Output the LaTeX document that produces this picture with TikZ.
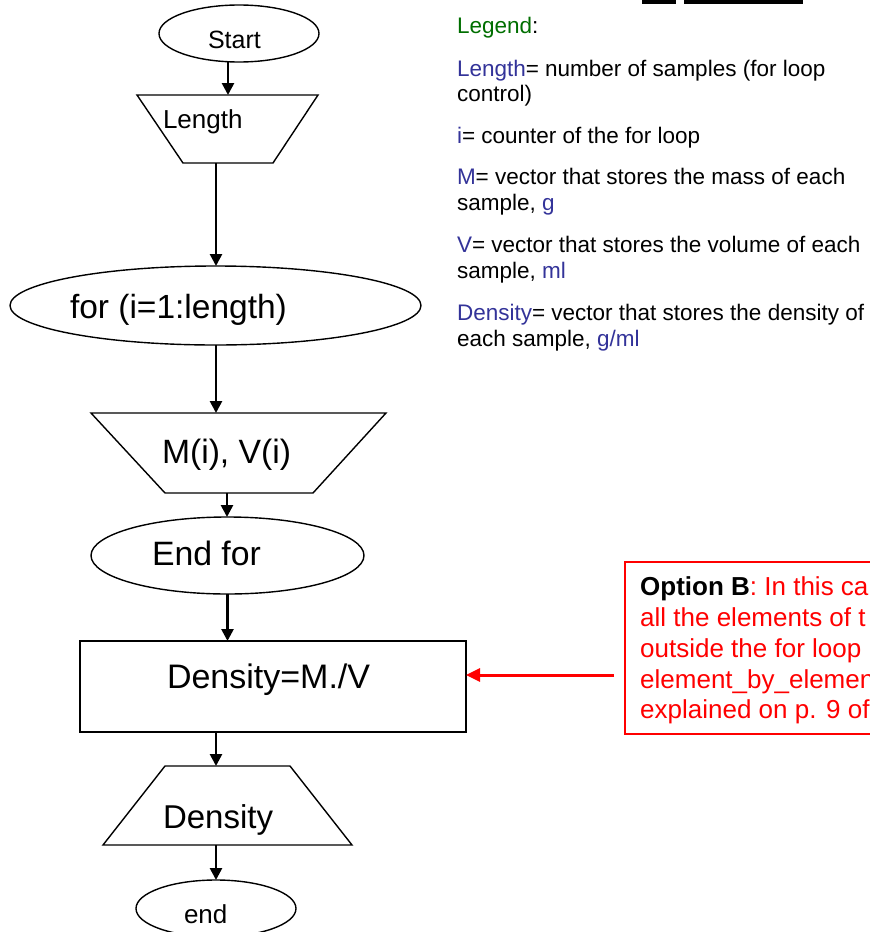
\documentclass[tikz,border=0pt]{standalone}
\usepackage{fontspec}
\setmainfont{Liberation Sans}
\usetikzlibrary{shapes.geometric,arrows.meta}
\definecolor{leggreen}{RGB}{0,110,0}
\definecolor{legblue}{RGB}{51,51,153}
\begin{document}
\begin{tikzpicture}[x=1pt,y=-1pt,
  every node/.style={inner sep=0pt,outer sep=0pt},
  shp/.style={draw=black,line width=1.4pt},
  flow/.style={-{Triangle[length=12pt,width=12pt]},line width=2.6pt},
  redflow/.style={red,-{Triangle[length=14pt,width=13pt]},line width=3pt},
  txt/.style={anchor=base west},
  leg/.style={anchor=base west,font=\fontsize{22.5}{26}\selectfont}]
  \clip (0,0) rectangle (870,932);
  \fill (642,0) rectangle (676,4);
  \fill (684,0) rectangle (803,4);
  % flow chart shapes
  \node [shp,ellipse,minimum width=160pt,minimum height=57pt] (start) at (239,33.5) {};
  \node [txt,font=\fontsize{25}{25}\selectfont] (starttxt) at (208,48) {Start};
  \draw [shp] (137,95) -- (318,95) -- (273,163) -- (183,163) -- cycle;
  \coordinate (lentop) at (228,95);
  \coordinate (lenbot) at (216,163);
  \node [txt,font=\fontsize{26}{26}\selectfont] (lentxt) at (163,128) {Length};
  \node [shp,ellipse,minimum width=411pt,minimum height=79pt] (for) at (215.5,305.5) {};
  \node [txt,font=\fontsize{33.5}{33.5}\selectfont] (fortxt) at (70,318) {for (i=1:length)};
  \draw [shp] (91,413) -- (386,413) -- (313,493) -- (165,493) -- cycle;
  \coordinate (mvtop) at (216,413);
  \coordinate (mvbot) at (227,493);
  \node [txt,font=\fontsize{33.7}{33.7}\selectfont] (mvtxt) at (162,463) {M(i), V(i)};
  \node [shp,ellipse,minimum width=273pt,minimum height=77pt] (endfor) at (227.5,555.5) {};
  \node [txt,font=\fontsize{33.8}{33.8}\selectfont] (endfortxt) at (152,565) {End for};
  \node [shp,rectangle,minimum width=386pt,minimum height=91pt] (calc) at (273,686.5) {};
  \node [txt,font=\fontsize{34}{34}\selectfont] (calctxt) at (167,688) {Density=M./V};
  \draw [shp] (165,766) -- (290,766) -- (352,845) -- (103,845) -- cycle;
  \coordinate (denstop) at (216,766);
  \coordinate (densbot) at (216,845);
  \node [txt,font=\fontsize{33}{33}\selectfont] (denstxt) at (163,828) {Density};
  \node [shp,ellipse,minimum width=160pt,minimum height=57pt] (end) at (216,908.5) {};
  \node [txt,font=\fontsize{26}{26}\selectfont] (endtxt) at (184,923) {end};
  % connectors
  \draw [flow] (start.south -| lentop) -- (lentop);
  \draw [flow] (lenbot) -- (lenbot |- for.north);
  \draw [flow] (for.south -| mvtop) -- (mvtop);
  \draw [flow] (mvbot) -- (mvbot |- endfor.north);
  \draw [flow] (endfor.south) -- (endfor.south |- calc.north);
  \draw [flow] (calc.south -| denstop) -- (denstop);
  \draw [flow] (densbot) -- (densbot |- end.north);
  % legend
  \node [leg] (legend) at (457,33) {{\color{leggreen}Legend}:};
  \node [leg] (lenA) at (457,76) {{\color{legblue}Length}= number of samples (for loop};
  \node [leg] (lenB) at (457,101) {control)};
  \node [leg] (cnt) at (457,143) {{\color{legblue}i}= counter of the for loop};
  \node [leg] (massA) at (457,184) {{\color{legblue}M}= vector that stores the mass of each};
  \node [leg] (massB) at (457,210) {sample, {\color{legblue}g}};
  \node [leg] (volA) at (457,252) {{\color{legblue}V}= vector that stores the volume of each};
  \node [leg] (volB) at (457,278) {sample, {\color{legblue}ml}};
  \node [leg] (densA) at (457,320) {{\color{legblue}Density}= vector that stores the density of};
  \node [leg] (densB) at (457,346) {each sample, {\color{legblue}g/ml}};
  % option B note
  \node [draw=red,line width=1.4pt,rectangle,minimum width=380pt,minimum height=172pt] (opt) at (815,648) {};
  \begin{scope}[every node/.style={anchor=base west,inner sep=0pt,red,font=\fontsize{26}{26}\selectfont}]
    \node (optA) at (640,595) {{\color{black}\bfseries Option B}: In this ca};
    \node (optB) at (640,626) {all the elements of t};
    \node (optC) at (640,657) {outside the for loop};
    \node (optD) at (640,688) {element\_by\_elemen};
    \node (optE) at (640,718) {explained on p. 9 of};
  \end{scope}
  \coordinate (redtail) at (614,675);
  \draw [redflow] (redtail) -- (redtail -| calc.east);
\end{tikzpicture}
\end{document}
